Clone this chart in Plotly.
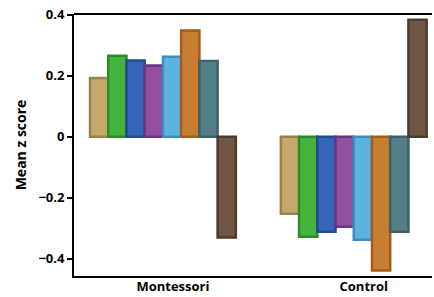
import plotly.graph_objects as go

groups = ["Montessori", "Control"]
series_names = ["S1", "S2", "S3", "S4", "S5", "S6", "S7", "S8"]
s1 = [0.193, -0.253]
s2 = [0.266, -0.328]
s3 = [0.250, -0.312]
s4 = [0.234, -0.295]
s5 = [0.263, -0.338]
s6 = [0.349, -0.439]
s7 = [0.249, -0.312]
s8 = [-0.331, 0.384]
series_values = [s1, s2, s3, s4, s5, s6, s7, s8]
y_ticks = [0.4, 0.2, 0, -0.2, -0.4]
y_tick_labels = ["0.4", "0.2", "0", "\u22120.2", "\u22120.4"]

fill_colors = ["#c4a86c", "#45b43c", "#3565b8", "#924f9f", "#5cb3e0", "#c97d32", "#557f86", "#705745"]
edge_colors = ["#9c8248", "#2e8a2a", "#214a92", "#6e3380", "#3a8fbf", "#a35c1c", "#3a6268", "#4f3a2c"]

fig = go.Figure()
for name, vals, fc, ec in zip(series_names, series_values, fill_colors, edge_colors):
    fig.add_trace(go.Bar(
        x=groups, y=vals, name=name,
        marker=dict(color=fc, line=dict(color=ec, width=2.5)),
    ))

fig.update_layout(
    width=434, height=297,
    margin=dict(l=74, r=2, t=14, b=21),
    paper_bgcolor="white", plot_bgcolor="white",
    barmode="group", bargap=0.236, bargroupgap=0,
    showlegend=False,
    font=dict(family="Open Sans", color="black"),
    shapes=[dict(type="line", xref="paper", yref="paper", x0=0, x1=1, y0=1, y1=1,
                 line=dict(color="black", width=2))],
)
fig.update_xaxes(
    type="category", range=[-0.466, 1.41],
    showline=True, linecolor="black", linewidth=2, mirror=False,
    ticks="", showgrid=False, automargin=False,
    tickfont=dict(size=13, family="Open Sans", color="black", weight="bold"),
    ticklabelstandoff=-3, ticklabelshift=10,
)
fig.update_yaxes(
    range=[-0.457, 0.403],
    tickvals=y_ticks, ticktext=y_tick_labels,
    showline=True, linecolor="black", linewidth=2, mirror=False,
    ticks="outside", ticklen=5, tickwidth=1.5, tickcolor="black",
    showgrid=False, zeroline=False, automargin=False,
    tickfont=dict(size=13, family="Open Sans", color="black", weight="bold"),
    title=dict(text="Mean z score", font=dict(size=14, family="Open Sans", color="black", weight="bold"), standoff=8),
)

fig.write_html(
    "out.html",
    config={"displayModeBar": False},
    post_script="document.body.style.margin='0';document.body.style.padding='0';",
)
